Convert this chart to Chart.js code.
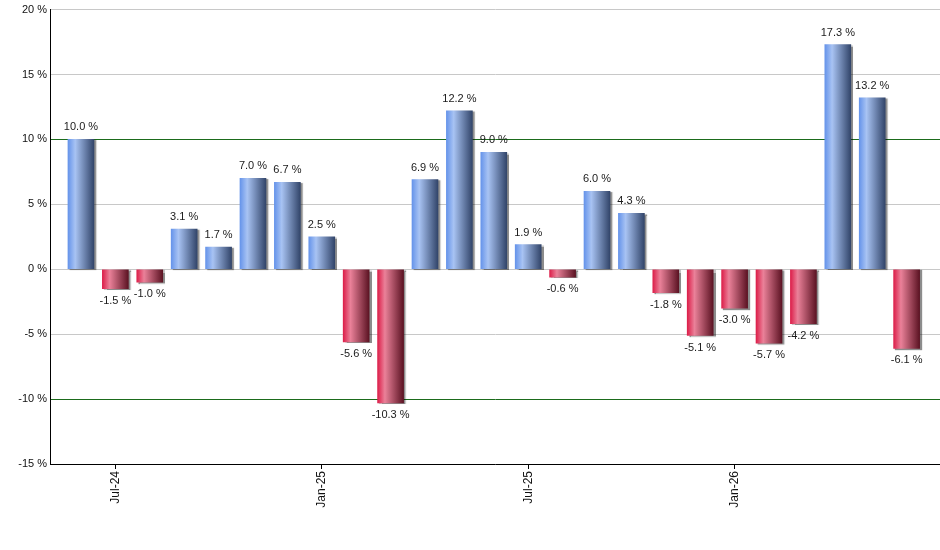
<!DOCTYPE html>
<html>
<head>
<meta charset="utf-8">
<script src="https://cdn.jsdelivr.net/npm/chart.js@4.4.1/dist/chart.umd.min.js"></script>
<style>
  html, body { margin: 0; padding: 0; background: #fff; }
  canvas { display: block; }
</style>
</head>
<body>
<canvas id="chart" width="940" height="550"></canvas>
<script>
// ------------------------------------------------------------
// Monthly returns, Jun-24 .. Jun-26
// ------------------------------------------------------------
const months = [
  'Jun-24', 'Jul-24', 'Aug-24', 'Sep-24', 'Oct-24', 'Nov-24', 'Dec-24',
  'Jan-25', 'Feb-25', 'Mar-25', 'Apr-25', 'May-25', 'Jun-25',
  'Jul-25', 'Aug-25', 'Sep-25', 'Oct-25', 'Nov-25', 'Dec-25',
  'Jan-26', 'Feb-26', 'Mar-26', 'Apr-26', 'May-26', 'Jun-26'
];
const returns = [
  10.0, -1.5, -1.0, 3.1, 1.7, 7.0, 6.7,
  2.5, -5.6, -10.3, 6.9, 12.2, 9.0,
  1.9, -0.6, 6.0, 4.3, -1.8, -5.1,
  -3.0, -5.7, -4.2, 17.3, 13.2, -6.1
];
const xTickLabels = ['Jul-24', 'Jan-25', 'Jul-25', 'Jan-26'];
const yTicks = [-15, -10, -5, 0, 5, 10, 15, 20];

const FONT = '"Liberation Sans", Arial, sans-serif';

function barGradient(ctx) {
  const chart = ctx.chart;
  const v = returns[ctx.dataIndex];
  if (!chart.chartArea || !chart.scales.x) return v >= 0 ? '#7d9fe0' : '#c83050';
  const cx = chart.scales.x.getPixelForValue(ctx.dataIndex);
  const g = chart.ctx.createLinearGradient(cx - 13, 0, cx + 13, 0);
  if (v >= 0) {
    g.addColorStop(0, '#6694ea');
    g.addColorStop(0.28, '#a8c3f3');
    g.addColorStop(1, '#32456a');
  } else {
    g.addColorStop(0, '#dc1f4a');
    g.addColorStop(0.28, '#ea8199');
    g.addColorStop(1, '#5c1323');
  }
  return g;
}

// shadow under bars + value labels
const barExtras = {
  id: 'barExtras',
  beforeDatasetsDraw(chart) {
    const c = chart.ctx;
    c.save();
    c.shadowColor = 'rgba(0,0,0,0.45)';
    c.shadowOffsetX = 2;
    c.shadowOffsetY = 1;
    c.shadowBlur = 1;
  },
  afterDatasetsDraw(chart) {
    const c = chart.ctx;
    c.restore();
    c.save();
    c.font = '11px ' + FONT;
    c.fillStyle = '#1a1a1a';
    c.textAlign = 'center';
    c.textBaseline = 'middle';
    chart.getDatasetMeta(0).data.forEach((bar, i) => {
      const v = returns[i];
      const y = v >= 0 ? bar.y - 12 : bar.y + 12;
      c.fillText(v.toFixed(1) + ' %', bar.x, y);
    });
    c.restore();
  }
};

new Chart(document.getElementById('chart'), {
  type: 'bar',
  data: {
    datasets: [{
      data: returns.map((v, i) => ({ x: i, y: v })),
      backgroundColor: barGradient,
      borderWidth: 0,
      barThickness: 26,
    }]
  },
  options: {
    responsive: false,
    animation: false,
    layout: { padding: { top: 9, right: 0, left: 0, bottom: 0 } },
    plugins: { legend: { display: false }, tooltip: { enabled: false } },
    scales: {
      x: {
        type: 'linear',
        min: -0.9,
        max: 24.97,
        offset: false,
        afterBuildTicks: s => { s.ticks = xTickLabels.map(l => ({ value: months.indexOf(l) })); },
        afterFit: s => { s.height = 86; },
        border: { display: true, color: '#000', width: 1 },
        grid: { offset: false, drawOnChartArea: false, drawTicks: true, tickLength: 5, color: '#000' },
        ticks: {
          autoSkip: false,
          minRotation: 90,
          maxRotation: 90,
          padding: 2,
          color: '#111',
          font: { family: FONT, size: 12 },
          callback: v => months[v] || ''
        }
      },
      y: {
        min: -15,
        max: 20,
        afterBuildTicks: s => { s.ticks = yTicks.map(v => ({ value: v })); },
        afterFit: s => { s.width = 50; },
        border: { display: true, color: '#000', width: 1 },
        grid: {
          drawTicks: false,
          color: c => (Math.abs(c.tick.value) === 10 ? '#1b6b1b' : '#c8c8c8'),
          lineWidth: 1
        },
        ticks: {
          padding: 3,
          color: '#111',
          font: { family: FONT, size: 11 },
          callback: v => v + ' %'
        }
      }
    }
  },
  plugins: [barExtras]
});
</script>
</body>
</html>
